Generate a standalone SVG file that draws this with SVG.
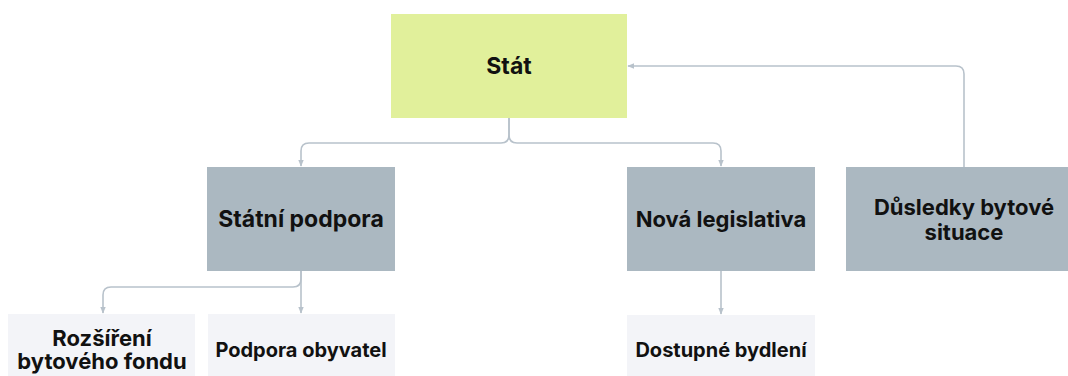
<svg xmlns="http://www.w3.org/2000/svg" width="1068" height="376" viewBox="0 0 1068 376">
<style>
.lbl{font-family:Inter,"Liberation Sans",sans-serif;font-weight:700;font-size:20px;fill:#111;text-anchor:middle}
.mid{fill:#ABB8C1}
.leaf{fill:#F3F4F8}
.edge{fill:none;stroke:#B8C2CB;stroke-width:1.6}
</style>
<defs>
<marker id="ah" viewBox="0 0 10 10" refX="9" refY="5" markerWidth="7" markerHeight="7" orient="auto" markerUnits="userSpaceOnUse">
<path d="M0,1 L10,5 L0,9 Z" fill="#B8C2CB"/>
</marker>
</defs>
<rect width="1068" height="376" fill="#fff"/>
<g id="edges">
<path class="edge" d="M509,118 V135 Q509,143 501,143 H309 Q301,143 301,151 V166" marker-end="url(#ah)"/>
<path class="edge" d="M509,118 V135 Q509,143 517,143 H713 Q721,143 721,151 V166" marker-end="url(#ah)"/>
<path class="edge" d="M301,271 V313" marker-end="url(#ah)"/>
<path class="edge" d="M301,271 V279 Q301,287 293,287 H111 Q103,287 103,295 V313" marker-end="url(#ah)"/>
<path class="edge" d="M721,271 V314" marker-end="url(#ah)"/>
<path class="edge" d="M964,167 V74 Q964,66 956,66 H628" marker-end="url(#ah)"/>
</g>
<g id="stat">
<rect x="391" y="14" width="236" height="104" fill="#E1F09B"/>
<text class="lbl" x="509" y="74" style="font-size:23px">Stát</text>
</g>
<g id="statni-podpora">
<rect class="mid" x="207" y="167" width="188" height="104"/>
<text class="lbl" x="301" y="227" style="font-size:23px">Státní podpora</text>
</g>
<g id="nova-legislativa">
<rect class="mid" x="627" y="167" width="188" height="104"/>
<text class="lbl" x="721" y="227" style="font-size:22px">Nová legislativa</text>
</g>
<g id="dusledky">
<rect class="mid" x="846" y="167" width="236" height="104"/>
<text class="lbl" x="964" y="215" style="font-size:22px">Důsledky bytové</text>
<text class="lbl" x="964" y="240" style="font-size:22px">situace</text>
</g>
<g id="rozsireni">
<rect class="leaf" x="8" y="314" width="187" height="62"/>
<text class="lbl" x="102" y="346" style="font-size:22px">Rozšíření</text>
<text class="lbl" x="102" y="369" style="font-size:22px">bytového fondu</text>
</g>
<g id="podpora-obyvatel">
<rect class="leaf" x="208" y="314" width="187" height="62"/>
<text class="lbl" x="301" y="357">Podpora obyvatel</text>
</g>
<g id="dostupne-bydleni">
<rect class="leaf" x="627" y="315" width="188" height="61"/>
<text class="lbl" x="721" y="357">Dostupné bydlení</text>
</g>
</svg>
